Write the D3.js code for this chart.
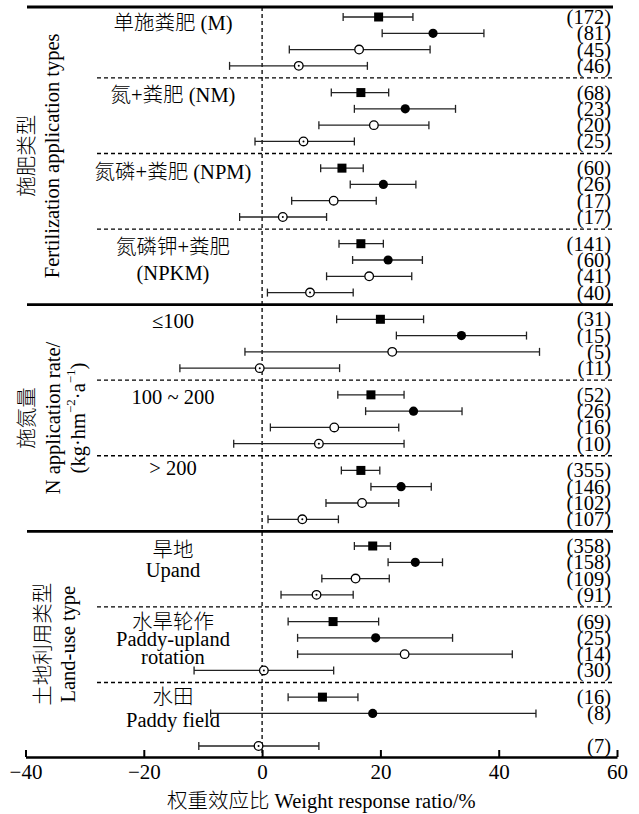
<!DOCTYPE html>
<html>
<head>
<meta charset="utf-8">
<script src="https://cdn.jsdelivr.net/npm/d3@7"></script>
<style>
  body { margin: 0; background: #fff; }
  svg { display: block; font-family: "Liberation Serif", "Noto Sans CJK SC", serif; font-weight: 300; }
</style>
</head>
<body>
<svg width="639" height="814"></svg>
<script>
// ---- data ----
const groupLabels = [
    ["单施粪肥 (M)"], ["氮+粪肥 (NM)"], ["氮磷+粪肥 (NPM)"], ["氮磷钾+粪肥", "(NPKM)"],
    ["≤100"], ["100 ~ 200"], ["> 200"],
    ["旱地", "Upand"], ["水旱轮作", "Paddy-upland", "rotation"], ["水田", "Paddy field"]
];
const sectionTitles = [
    ["施肥类型", "Fertilization application types"],
    ["施氮量", "N application rate/", "(kg·hm^{−2}·a^{−1})"],
    ["土地利用类型", "Land-use type"]
];
const sectionSizes = [4, 3, 3];
const markerTypes = ["square", "filled", "open", "dotted"];

// mean, lower and upper bound per group (4 rows each), null = no data
const means = [
    [19.7, 28.9, 16.4, 6.2], [16.7, 24.2, 18.9, 7.0], [13.5, 20.5, 12.1, 3.5], [16.7, 21.3, 18.1, 8.1],
    [20.0, 33.7, 22.0, -0.4], [18.4, 25.6, 12.2, 9.6], [16.7, 23.5, 16.9, 6.8],
    [18.7, 25.9, 15.8, 9.2], [12.0, 19.2, 24.1, 0.3], [10.2, 18.7, null, -0.6]
];
const lower = [
    [13.7, 20.3, 4.6, -5.5], [11.7, 15.6, 9.6, -1.2], [9.9, 14.9, 5.0, -3.8], [13.0, 15.3, 10.9, 0.9],
    [12.6, 22.7, -2.9, -13.9], [12.8, 17.5, 1.4, -4.8], [13.4, 18.4, 10.8, 1.0],
    [15.6, 21.3, 10.1, 3.2], [4.4, 6.0, 6.0, -11.5], [4.4, -8.7, null, -10.7]
];
const upper = [
    [25.5, 37.5, 28.4, 17.8], [21.4, 32.7, 28.2, 15.6], [17.1, 26.0, 19.3, 10.9], [20.5, 27.1, 25.3, 15.4],
    [27.3, 44.7, 46.9, 13.1], [24.0, 33.8, 23.1, 24.0], [19.9, 28.6, 23.1, 12.9],
    [21.7, 30.5, 21.5, 15.4], [19.7, 32.2, 42.3, 12.1], [16.2, 46.3, null, 9.6]
];
const counts = [
    [172, 81, 45, 46], [68, 23, 20, 25], [60, 26, 17, 17], [141, 60, 41, 40],
    [31, 15, 5, 11], [52, 26, 16, 10], [355, 146, 102, 107],
    [358, 158, 109, 91], [69, 25, 14, 30], [16, 8, null, 7]
];
const xTicks = [-40, -20, 0, 20, 40, 60];
const xTitle = "权重效应比 Weight response ratio/%";

// ---- layout ----
const labelOffsets = [[6], [2], [4], [3, 29], [2], [2], [-2], [4, 24], [0, 17, 35], [0, 23]];
const titleX = [[27, 52], [27, 53, 78], [43, 68]];
const groupStep = 4.64;      // rows per group incl. gap
const fs = 20.5;

const svg = d3.select("svg");
const plotLeft = 27, plotRight = 613, topY = 7, axisY = 757, labelX = 173, countX = 611;

const x = d3.scaleLinear().domain([-40, 60]).range([25.5, 617]);
const y = d3.scaleLinear().domain([0, 9 * groupStep + 3]).range([17, 746]);
const rowY = (g, r) => y(g * groupStep + r);

// rows flattened
const rows = [];
means.forEach((grp, g) => grp.forEach((m, r) => {
    if (m === null) return;
    rows.push({g, r, mean: m, lo: lower[g][r], hi: upper[g][r], n: counts[g][r], type: markerTypes[r]});
}));

// zero line
svg.append("line")
    .attr("x1", x(0)).attr("x2", x(0)).attr("y1", topY).attr("y2", axisY)
    .attr("stroke", "#000").attr("stroke-width", 1.3).attr("stroke-dasharray", "4,3");

// top line
svg.append("line")
    .attr("x1", plotLeft).attr("x2", plotRight).attr("y1", topY).attr("y2", topY)
    .attr("stroke", "#000").attr("stroke-width", 3);

// separators between groups
const sectionStart = d3.cumsum([0].concat(sectionSizes.slice(0, -1)));
for (let g = 1; g < groupLabels.length; g++) {
    const solid = sectionStart.includes(g);
    const yy = y(g * groupStep - 0.9);
    svg.append("line")
        .attr("x1", solid ? plotLeft : 97).attr("x2", plotRight)
        .attr("y1", yy).attr("y2", yy)
        .attr("stroke", "#000")
        .attr("stroke-width", solid ? 2.6 : 1.3)
        .attr("stroke-dasharray", solid ? null : "4,3");
}

// section titles (rotated)
sectionTitles.forEach((lines, s) => {
    const g0 = sectionStart[s], g1 = g0 + sectionSizes[s];
    const yTop = g0 === 0 ? topY : y(g0 * groupStep - 0.9);
    const yBot = g1 >= groupLabels.length ? axisY : y(g1 * groupStep - 0.9);
    const cy = (yTop + yBot) / 2;
    lines.forEach((line, i) => {
        const t = svg.append("text")
            .attr("transform", `translate(${titleX[s][i]},${cy}) rotate(-90)`)
            .attr("text-anchor", "middle")
            .attr("dominant-baseline", "central")
            .attr("font-size", fs);
        line.split(/(\^\{[^}]*\})/).forEach(part => {
            if (!part) return;
            const m = part.match(/^\^\{([^}]*)\}$/);
            if (m) t.append("tspan").attr("font-size", 13).attr("baseline-shift", "super").text(m[1]);
            else t.append("tspan").text(part);
        });
    });
});

// group labels
groupLabels.forEach((lines, g) => {
    lines.forEach((line, i) => {
        svg.append("text")
            .attr("x", labelX).attr("y", rowY(g, 0) + labelOffsets[g][i])
            .attr("text-anchor", "middle")
            .attr("dominant-baseline", "central")
            .attr("font-size", fs)
            .text(line);
    });
});

// error bars
const bar = svg.selectAll(".bar").data(rows).enter().append("g")
    .attr("class", "bar")
    .attr("transform", d => `translate(0,${rowY(d.g, d.r)})`);

bar.append("line")
    .attr("x1", d => x(d.lo)).attr("x2", d => x(d.hi))
    .attr("stroke", "#222").attr("stroke-width", 1.3);
bar.append("line")
    .attr("x1", d => x(d.lo)).attr("x2", d => x(d.lo)).attr("y1", -4).attr("y2", 4)
    .attr("stroke", "#222").attr("stroke-width", 1.3);
bar.append("line")
    .attr("x1", d => x(d.hi)).attr("x2", d => x(d.hi)).attr("y1", -4).attr("y2", 4)
    .attr("stroke", "#222").attr("stroke-width", 1.3);

// markers
bar.filter(d => d.type === "square").append("rect")
    .attr("x", d => x(d.mean) - 4.5).attr("y", -4.5).attr("width", 9).attr("height", 9)
    .attr("fill", "#000");
bar.filter(d => d.type === "filled").append("circle")
    .attr("cx", d => x(d.mean)).attr("r", 4.6).attr("fill", "#000");
bar.filter(d => d.type === "open" || d.type === "dotted").append("circle")
    .attr("cx", d => x(d.mean)).attr("r", 4.3)
    .attr("fill", "#fff").attr("stroke", "#000").attr("stroke-width", 1.3);
bar.filter(d => d.type === "dotted").append("circle")
    .attr("cx", d => x(d.mean)).attr("r", 1).attr("fill", "#000");

// counts
bar.append("text")
    .attr("x", countX)
    .attr("text-anchor", "end")
    .attr("dominant-baseline", "central")
    .attr("font-size", fs)
    .text(d => "(" + d.n + ")");

// x axis
const axis = svg.append("g")
    .attr("transform", `translate(0,${axisY})`)
    .call(d3.axisBottom(x).tickValues(xTicks).tickSizeInner(-7).tickSizeOuter(0).tickPadding(7))
    .attr("font-size", null).attr("font-family", null);
axis.select(".domain").attr("stroke-width", 2.6);
axis.selectAll(".tick line").attr("stroke-width", 2);
axis.selectAll(".tick text").attr("font-size", 21).attr("fill", "#000");

svg.append("text")
    .attr("x", (x.range()[0] + x.range()[1]) / 2).attr("y", 808)
    .attr("text-anchor", "middle")
    .attr("font-size", fs)
    .text(xTitle);
</script>
</body>
</html>
